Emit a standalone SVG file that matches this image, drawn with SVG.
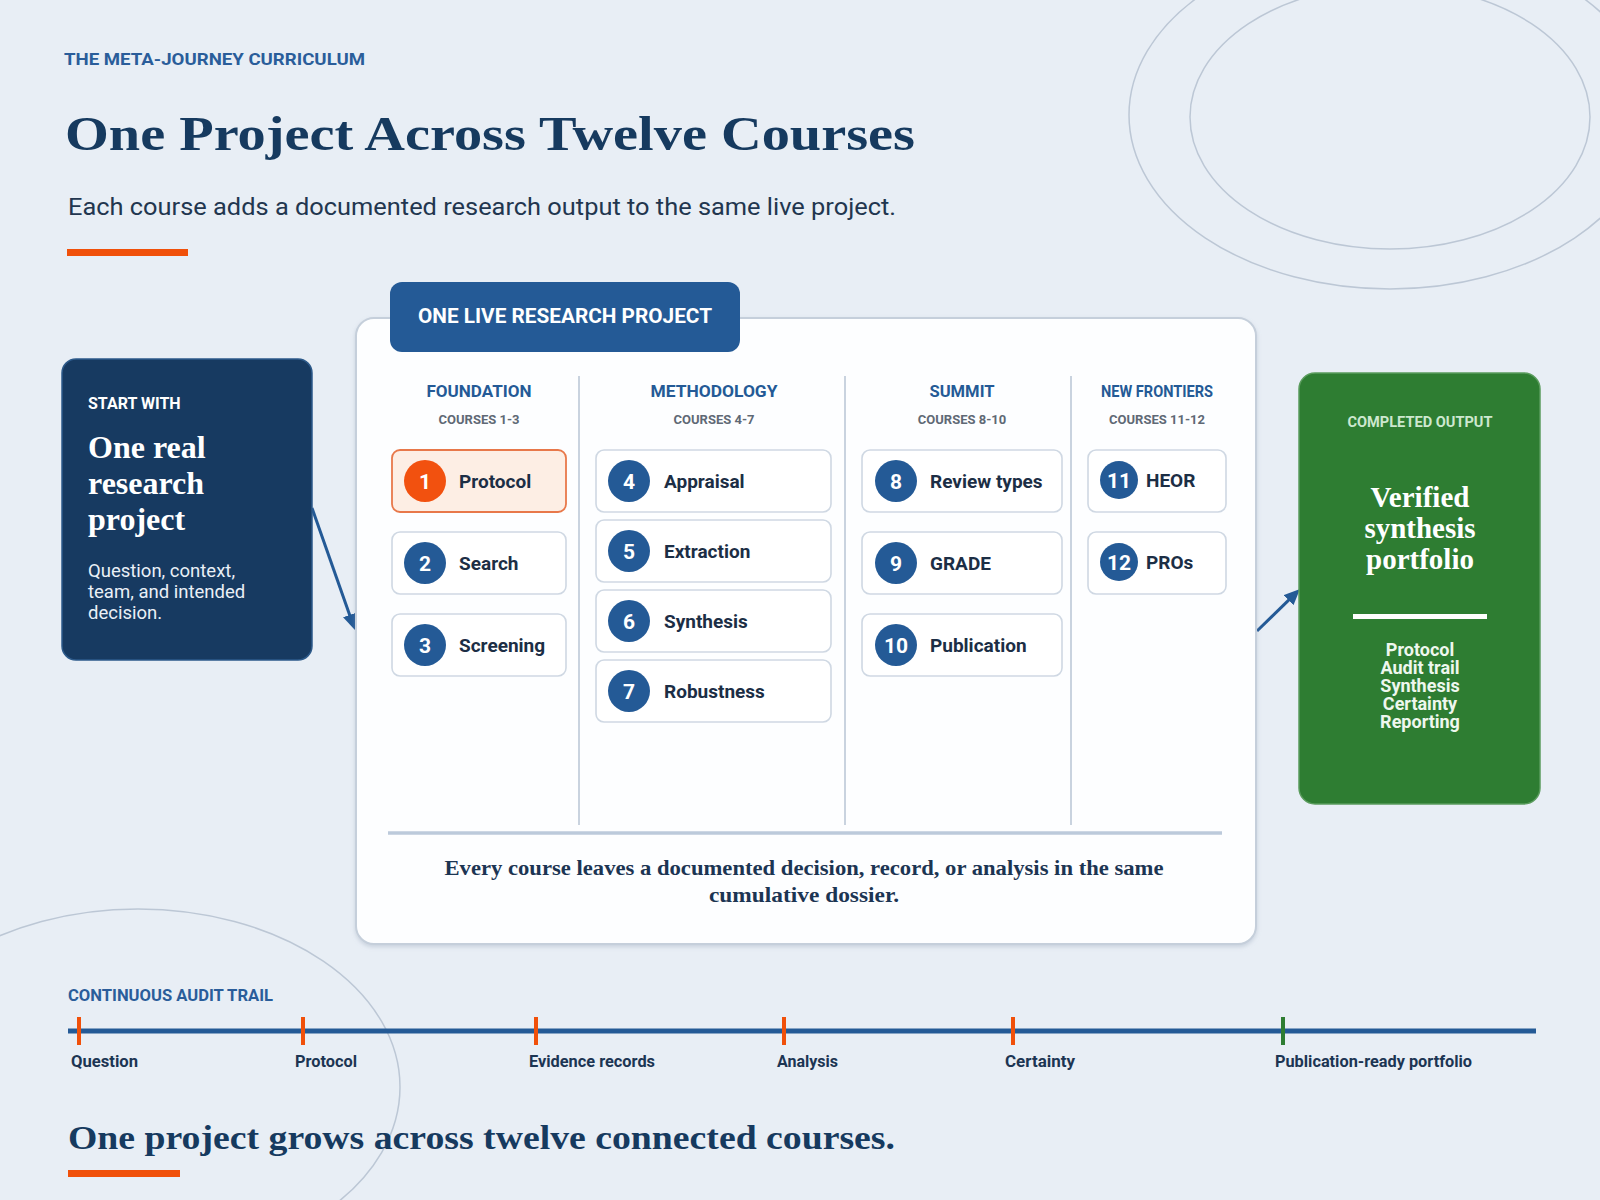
<svg xmlns="http://www.w3.org/2000/svg" width="1600" height="1200" viewBox="0 0 1600 1200">
<defs>
<style>
.sans{font-family:Roboto,"Liberation Sans",Arial,sans-serif}
.serif{font-family:"Liberation Serif","Times New Roman",serif;font-weight:700}
.eyebrow{font-family:Roboto,"Liberation Sans",sans-serif;font-weight:700;fill:#2a5d9a}
.deco{fill:none;stroke:#bcc7d5;stroke-width:1.5}
.card{fill:#ffffff;stroke:#cfd8e3;stroke-width:1.6}
.num{fill:#245a96}
.numt{font-family:Roboto,"Liberation Sans",sans-serif;fill:#ffffff;font-weight:700;font-size:21px;text-anchor:middle}
.lbl{font-family:Roboto,"Liberation Sans",sans-serif;fill:#1c2e45;font-weight:700;font-size:19px}
.colh{font-family:Roboto,"Liberation Sans",sans-serif;fill:#245a96;font-weight:700;font-size:16px;text-anchor:middle}
.cols{font-family:Roboto,"Liberation Sans",sans-serif;fill:#5f6975;font-weight:700;font-size:13px;text-anchor:middle}
.div{stroke:#c9d3df;stroke-width:2}
.tick{stroke:#f0500a;stroke-width:4}
.tl{font-family:Roboto,"Liberation Sans",sans-serif;fill:#1c3553;font-weight:700;font-size:16px}
.conn{stroke:#245a96;stroke-width:3;fill:none}
.gi{font-family:Roboto,"Liberation Sans",sans-serif;fill:#eef7ee;font-weight:700;font-size:18px;text-anchor:middle}
</style>
<marker id="ah" markerUnits="userSpaceOnUse" markerWidth="16" markerHeight="14" viewBox="0 0 16 14" refX="8" refY="7" orient="auto">
<path d="M0,0 L16,7 L0,14 z" fill="#245a96"/>
</marker>
<filter id="sh" x="-5%" y="-5%" width="110%" height="110%">
<feDropShadow dx="0" dy="2" stdDeviation="2" flood-color="#8a9bb0" flood-opacity="0.35"/>
</filter>
</defs>

<rect x="0" y="0" width="1600" height="1200" fill="#e8eef5"/>

<g id="decor">
<ellipse class="deco" cx="1390" cy="115" rx="261" ry="174"/>
<ellipse class="deco" cx="1390" cy="117" rx="200" ry="132"/>
<ellipse class="deco" cx="138" cy="1087" rx="262" ry="178"/>
</g>

<g id="header">
<text class="eyebrow" x="64" y="65" font-size="17" textLength="301" lengthAdjust="spacingAndGlyphs">THE META-JOURNEY CURRICULUM</text>
<text class="serif" x="65" y="150" font-size="48" fill="#163a5f" textLength="850" lengthAdjust="spacingAndGlyphs">One Project Across Twelve Courses</text>
<text class="sans" x="68" y="215" font-size="23" fill="#22364f" textLength="828" lengthAdjust="spacingAndGlyphs">Each course adds a documented research output to the same live project.</text>
<rect x="67" y="249" width="121" height="7" fill="#f0500a"/>
</g>

<g id="connectors">
<line class="conn" x1="312" y1="508" x2="352.3" y2="622.5" marker-end="url(#ah)"/>
<line class="conn" x1="1257" y1="631" x2="1294.3" y2="594.6" marker-end="url(#ah)"/>
</g>

<g id="start-node">
<rect x="62" y="359" width="250" height="301" rx="14" fill="#173a61" stroke="#2d5a8a" stroke-width="1.5"/>
<text class="sans" x="88" y="409" font-size="16" font-weight="700" fill="#ffffff">START WITH</text>
<text class="serif" x="88" y="458" font-size="32" fill="#ffffff">One real</text>
<text class="serif" x="88" y="494" font-size="32" fill="#ffffff">research</text>
<text class="serif" x="88" y="530" font-size="32" fill="#ffffff">project</text>
<text class="sans" x="88" y="577" font-size="18.5" fill="#eaf0f7">Question, context,</text>
<text class="sans" x="88" y="598" font-size="18.5" fill="#eaf0f7">team, and intended</text>
<text class="sans" x="88" y="619" font-size="18.5" fill="#eaf0f7">decision.</text>
</g>

<g id="project-panel">
<rect x="356" y="318" width="900" height="626" rx="18" fill="#fdfeff" stroke="#c5cfdb" stroke-width="2" filter="url(#sh)"/>
<rect x="390" y="282" width="350" height="70" rx="12" fill="#245a96"/>
<text class="sans" x="565" y="323" font-size="21" font-weight="700" fill="#ffffff" text-anchor="middle" textLength="294" lengthAdjust="spacingAndGlyphs">ONE LIVE RESEARCH PROJECT</text>
<line class="div" x1="579" y1="376" x2="579" y2="825"/>
<line class="div" x1="845" y1="376" x2="845" y2="825"/>
<line class="div" x1="1071" y1="376" x2="1071" y2="825"/>
<line x1="388" y1="833" x2="1222" y2="833" stroke="#bccadb" stroke-width="3.5"/>
<text class="serif" x="804" y="875" font-size="21" fill="#1c3553" text-anchor="middle" textLength="719" lengthAdjust="spacingAndGlyphs">Every course leaves a documented decision, record, or analysis in the same</text>
<text class="serif" x="804" y="902" font-size="21" fill="#1c3553" text-anchor="middle" textLength="190" lengthAdjust="spacingAndGlyphs">cumulative dossier.</text>
</g>

<g id="col-foundation">
<text class="colh" x="479" y="397" textLength="105" lengthAdjust="spacingAndGlyphs">FOUNDATION</text>
<text class="cols" x="479" y="424">COURSES 1-3</text>
</g>
<g id="col-methodology">
<text class="colh" x="714" y="397" textLength="127" lengthAdjust="spacingAndGlyphs">METHODOLOGY</text>
<text class="cols" x="714" y="424">COURSES 4-7</text>
</g>
<g id="col-summit">
<text class="colh" x="962" y="397" textLength="65" lengthAdjust="spacingAndGlyphs">SUMMIT</text>
<text class="cols" x="962" y="424">COURSES 8-10</text>
</g>
<g id="col-frontiers">
<text class="colh" x="1157" y="397" font-size="15" textLength="112" lengthAdjust="spacingAndGlyphs">NEW FRONTIERS</text>
<text class="cols" x="1157" y="424">COURSES 11-12</text>
</g>

<g id="course-1">
<rect x="392" y="450" width="174" height="62" rx="8" fill="#fdeee4" stroke="#e8784a" stroke-width="1.8"/>
<circle cx="425" cy="481" r="21" fill="#f2510f"/>
<text class="numt" x="425" y="488.5">1</text>
<text class="lbl" x="459" y="488">Protocol</text>
</g>
<g id="course-2">
<rect class="card" x="392" y="532" width="174" height="62" rx="8"/>
<circle class="num" cx="425" cy="563" r="21"/>
<text class="numt" x="425" y="570.5">2</text>
<text class="lbl" x="459" y="570">Search</text>
</g>
<g id="course-3">
<rect class="card" x="392" y="614" width="174" height="62" rx="8"/>
<circle class="num" cx="425" cy="645" r="21"/>
<text class="numt" x="425" y="652.5">3</text>
<text class="lbl" x="459" y="652">Screening</text>
</g>

<g id="course-4">
<rect class="card" x="596" y="450" width="235" height="62" rx="8"/>
<circle class="num" cx="629" cy="481" r="21"/>
<text class="numt" x="629" y="488.5">4</text>
<text class="lbl" x="664" y="488">Appraisal</text>
</g>
<g id="course-5">
<rect class="card" x="596" y="520" width="235" height="62" rx="8"/>
<circle class="num" cx="629" cy="551" r="21"/>
<text class="numt" x="629" y="558.5">5</text>
<text class="lbl" x="664" y="558">Extraction</text>
</g>
<g id="course-6">
<rect class="card" x="596" y="590" width="235" height="62" rx="8"/>
<circle class="num" cx="629" cy="621" r="21"/>
<text class="numt" x="629" y="628.5">6</text>
<text class="lbl" x="664" y="628">Synthesis</text>
</g>
<g id="course-7">
<rect class="card" x="596" y="660" width="235" height="62" rx="8"/>
<circle class="num" cx="629" cy="691" r="21"/>
<text class="numt" x="629" y="698.5">7</text>
<text class="lbl" x="664" y="698">Robustness</text>
</g>

<g id="course-8">
<rect class="card" x="862" y="450" width="200" height="62" rx="8"/>
<circle class="num" cx="896" cy="481" r="21"/>
<text class="numt" x="896" y="488.5">8</text>
<text class="lbl" x="930" y="488">Review types</text>
</g>
<g id="course-9">
<rect class="card" x="862" y="532" width="200" height="62" rx="8"/>
<circle class="num" cx="896" cy="563" r="21"/>
<text class="numt" x="896" y="570.5">9</text>
<text class="lbl" x="930" y="570">GRADE</text>
</g>
<g id="course-10">
<rect class="card" x="862" y="614" width="200" height="62" rx="8"/>
<circle class="num" cx="896" cy="645" r="21"/>
<text class="numt" x="896" y="652.5">10</text>
<text class="lbl" x="930" y="652">Publication</text>
</g>

<g id="course-11">
<rect class="card" x="1088" y="450" width="138" height="62" rx="8"/>
<circle class="num" cx="1119" cy="480" r="19"/>
<text class="numt" x="1119" y="487.5" font-size="20">11</text>
<text class="lbl" x="1146" y="486.5" font-size="16.5">HEOR</text>
</g>
<g id="course-12">
<rect class="card" x="1088" y="532" width="138" height="62" rx="8"/>
<circle class="num" cx="1119" cy="562" r="19"/>
<text class="numt" x="1119" y="569.5" font-size="20">12</text>
<text class="lbl" x="1146" y="568.5" font-size="16.5">PROs</text>
</g>

<g id="output-node">
<rect x="1299" y="373" width="241" height="431" rx="16" fill="#2e7d32" stroke="#5a9c5d" stroke-width="1.5"/>
<text class="sans" x="1420" y="427" font-size="14.5" font-weight="700" fill="#cde8cf" text-anchor="middle" textLength="145" lengthAdjust="spacingAndGlyphs">COMPLETED OUTPUT</text>
<text class="serif" x="1420" y="507" font-size="29" fill="#ffffff" text-anchor="middle">Verified</text>
<text class="serif" x="1420" y="538" font-size="29" fill="#ffffff" text-anchor="middle">synthesis</text>
<text class="serif" x="1420" y="569" font-size="29" fill="#ffffff" text-anchor="middle">portfolio</text>
<rect x="1353" y="614" width="134" height="5" fill="#ffffff"/>
<text class="gi" x="1420" y="656">Protocol</text>
<text class="gi" x="1420" y="674">Audit trail</text>
<text class="gi" x="1420" y="692">Synthesis</text>
<text class="gi" x="1420" y="710">Certainty</text>
<text class="gi" x="1420" y="728">Reporting</text>
</g>

<g id="audit-trail">
<text class="eyebrow" x="68" y="1001" font-size="16" textLength="205" lengthAdjust="spacingAndGlyphs">CONTINUOUS AUDIT TRAIL</text>
<line x1="68" y1="1031" x2="1536" y2="1031" stroke="#245a96" stroke-width="5"/>
<line class="tick" x1="79" y1="1017" x2="79" y2="1045"/>
<line class="tick" x1="303" y1="1017" x2="303" y2="1045"/>
<line class="tick" x1="536" y1="1017" x2="536" y2="1045"/>
<line class="tick" x1="784" y1="1017" x2="784" y2="1045"/>
<line class="tick" x1="1013" y1="1017" x2="1013" y2="1045"/>
<line x1="1283" y1="1017" x2="1283" y2="1045" stroke="#2e7d32" stroke-width="4"/>
<text class="tl" x="71" y="1067" textLength="67" lengthAdjust="spacingAndGlyphs">Question</text>
<text class="tl" x="295" y="1067" textLength="62" lengthAdjust="spacingAndGlyphs">Protocol</text>
<text class="tl" x="529" y="1067" textLength="126" lengthAdjust="spacingAndGlyphs">Evidence records</text>
<text class="tl" x="777" y="1067" textLength="61" lengthAdjust="spacingAndGlyphs">Analysis</text>
<text class="tl" x="1005" y="1067" textLength="70" lengthAdjust="spacingAndGlyphs">Certainty</text>
<text class="tl" x="1275" y="1067" textLength="197" lengthAdjust="spacingAndGlyphs">Publication-ready portfolio</text>
</g>

<g id="footer">
<text class="serif" x="68" y="1149" font-size="34" fill="#163a5f" textLength="827" lengthAdjust="spacingAndGlyphs">One project grows across twelve connected courses.</text>
<rect x="68" y="1170" width="112" height="7" fill="#f0500a"/>
</g>
</svg>
